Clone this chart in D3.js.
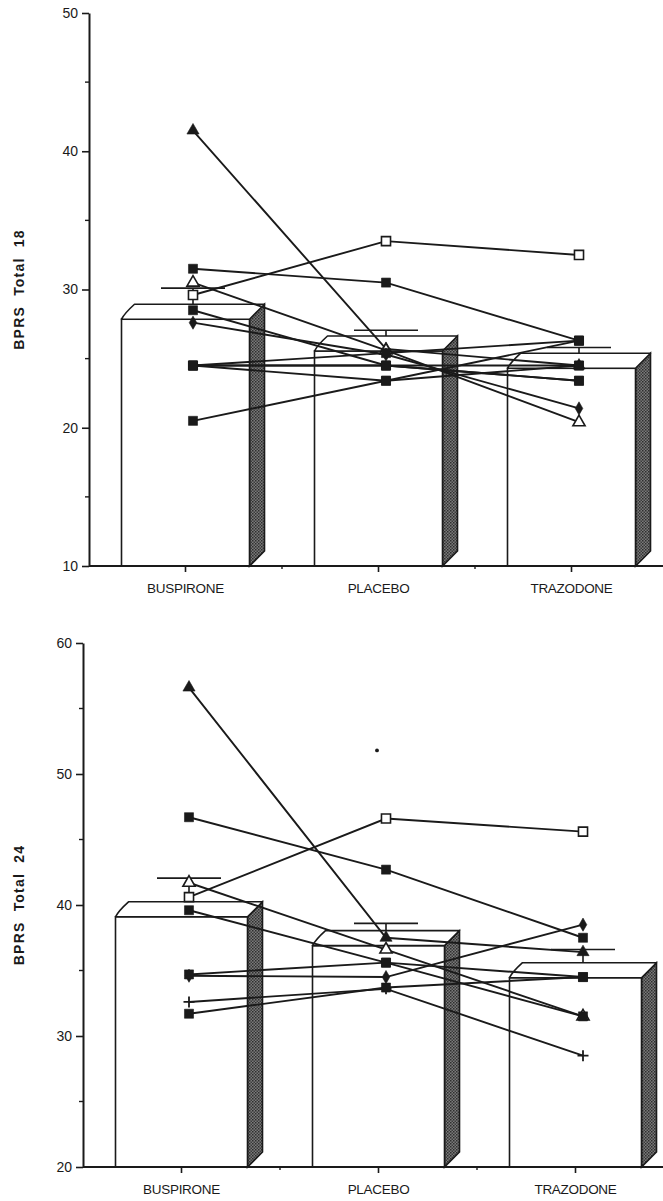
<!DOCTYPE html>
<html>
<head>
<meta charset="utf-8">
<script src="https://cdn.jsdelivr.net/npm/d3@7"></script>
<style>
  body { margin: 0; background: #fff; }
  svg { display: block; }
  text { font-family: "Liberation Sans", Arial, sans-serif; fill: #1a1a1a; }
</style>
</head>
<body>
<svg id="chart" width="663" height="1201"></svg>
<script>
var categories = ['BUSPIRONE', 'PLACEBO', 'TRAZODONE'];

// panel 1 : BPRS Total 18
var yTicks18 = [10, 20, 30, 40, 50];
var yMinor18 = [15, 25, 35, 45];
var means18 = [27.85, 25.55, 24.3];
var errTop18 = [30.1, 27.05, 25.8];
var shapes18 = ['triFill', 'square', 'triOpen', 'squareOpen', 'square', 'diamond',
                'square', 'square', 'square', 'square', 'square'];
var subjects18 = [
  [41.5, 25.7, 24.5],
  [31.5, 30.5, 26.3],
  [30.5, 25.6, 20.4],
  [29.6, 33.5, 32.5],
  [28.5, 24.5, 23.4],
  [27.6, 25.3, 21.4],
  [24.5, 25.4, 26.3],
  [24.5, 24.5, 24.5],
  [24.5, 24.5, 23.4],
  [24.5, 23.4, 24.5],
  [20.5, 23.4, 26.3]
];

// panel 2 : BPRS Total 24
var yTicks24 = [20, 30, 40, 50, 60];
var yMinor24 = [25, 35, 45, 55];
var means24 = [39.1, 36.9, 34.45];
var errTop24 = [42.05, 38.6, 36.6];
var shapes24 = ['triFill', 'square', 'squareOpen', 'triOpen', 'square', 'square',
                'diamond', 'plus', 'square'];
var subjects24 = [
  [56.6, 37.5, 36.4],
  [46.7, 42.7, 37.5],
  [40.6, 46.6, 45.6],
  [41.7, 36.6, 31.5],
  [39.6, 35.6, 31.5],
  [34.7, 35.6, 34.5],
  [34.6, 34.5, 38.5],
  [32.6, 33.6, 28.5],
  [31.7, 33.7, 34.5]
];
var stray24 = [[1, 51.8]]; // lone dot above placebo

var svg = d3.select('#chart');
var ink = '#1a1a1a';

var defs = svg.append('defs');
var pat = defs.append('pattern')
    .attr('id', 'stipple')
    .attr('width', 3).attr('height', 3)
    .attr('patternUnits', 'userSpaceOnUse');
pat.append('rect').attr('width', 3).attr('height', 3).attr('fill', '#7a7a7a');
pat.append('rect').attr('width', 1.5).attr('height', 1.5).attr('fill', '#2e2e2e');
pat.append('rect').attr('x', 1.5).attr('y', 1.5).attr('width', 1.5).attr('height', 1.5).attr('fill', '#3c3c3c');

function drawPanel(cfg) {
  var g = svg.append('g');
  var x = d3.scaleBand().domain(categories).range([cfg.x0, cfg.x1]);
  var y = d3.scaleLinear().domain(cfg.domain).range([cfg.yBottom, cfg.yTop]);
  var step = x.step();
  var frontW = cfg.frontW, dx = 15, dy = 15;
  var pad = (step - frontW) / 2;
  var mx = function (i) { return x(categories[i]) + pad + (frontW + dx) / 2; };

  // bars
  categories.forEach(function (c, i) {
    var fl = x(c) + pad, fr = fl + frontW, yt = y(cfg.means[i]), yb = cfg.yBottom;
    g.append('path')
      .attr('d', 'M' + fr + ',' + yt + 'L' + (fr + dx) + ',' + (yt - dy) + 'L' + (fr + dx) + ',' + (yb - dy) + 'L' + fr + ',' + yb + 'Z')
      .attr('fill', 'url(#stipple)').attr('stroke', ink).attr('stroke-width', 1.6);
    g.append('rect')
      .attr('x', fl).attr('y', yt).attr('width', frontW).attr('height', yb - yt)
      .attr('fill', '#fff').attr('stroke', ink).attr('stroke-width', 1.6);
    g.append('path')
      .attr('d', 'M' + fl + ',' + yt + 'Q' + (fl + 3) + ',' + (yt - 6) + ' ' + (fl + 13) + ',' + (yt - dy) +
                 'L' + (fr + dx) + ',' + (yt - dy) + 'L' + fr + ',' + yt + 'Z')
      .attr('fill', '#fff').attr('stroke', ink).attr('stroke-width', 1.6)
      .attr('stroke-linejoin', 'round');
    // error bar
    var ye = y(cfg.errTop[i]);
    g.append('line').attr('x1', mx(i)).attr('x2', mx(i)).attr('y1', ye).attr('y2', yt - dy)
      .attr('stroke', ink).attr('stroke-width', 1.6);
    g.append('line').attr('x1', mx(i) - 32).attr('x2', mx(i) + 32).attr('y1', ye).attr('y2', ye)
      .attr('stroke', ink).attr('stroke-width', 1.6);
  });

  // subject lines
  var line = d3.line().x(function (d, i) { return mx(i); }).y(function (d) { return y(d); });
  g.selectAll('path.subj')
    .data(cfg.subjects).enter()
    .append('path').attr('class', 'subj')
    .attr('d', line)
    .attr('fill', 'none').attr('stroke', ink).attr('stroke-width', 1.9);

  // markers, squares drawn last so they sit on top
  var order = cfg.subjects.map(function (d, s) { return s; });
  order.sort(function (a, b) {
    return (cfg.shapes[a] === 'square') - (cfg.shapes[b] === 'square') || a - b;
  });
  order.forEach(function (s) {
    var vals = cfg.subjects[s];
    var shape = cfg.shapes[s];
    vals.forEach(function (v, i) {
      var px = mx(i), py = y(v);
      var m;
      if (shape === 'plus') {
        m = g.append('path').attr('d', 'M-5.5,0H5.5M0,-5.5V5.5')
          .attr('stroke', ink).attr('stroke-width', 1.8).attr('fill', 'none');
      } else {
        var type = shape.indexOf('tri') === 0 ? d3.symbolTriangle
                 : shape === 'diamond' ? d3.symbolDiamond : d3.symbolSquare;
        var size = type === d3.symbolSquare ? 82 : type === d3.symbolTriangle ? 64 : 50;
        var open = shape.indexOf('Open') > 0;
        m = g.append('path').attr('d', d3.symbol().type(type).size(size)())
          .attr('fill', open ? '#fff' : ink)
          .attr('stroke', ink).attr('stroke-width', open ? 1.6 : 0.6);
      }
      m.attr('transform', 'translate(' + px + ',' + py + ')');
    });
  });

  (cfg.stray || []).forEach(function (d) {
    g.append('circle').attr('cx', mx(d[0]) - 9).attr('cy', y(d[1])).attr('r', 1.9).attr('fill', ink);
  });

  // y axis
  var yAxis = d3.axisLeft(y).tickValues(cfg.yTicks).tickSize(7).tickSizeOuter(0).tickPadding(4);
  var ga = g.append('g').attr('transform', 'translate(' + cfg.x0 + ',0)').call(yAxis);
  ga.select('.domain').attr('stroke', ink).attr('stroke-width', 2);
  ga.selectAll('.tick line').attr('stroke', ink).attr('stroke-width', 1.6);
  ga.selectAll('.tick text').style('font-size', '14px').attr('fill', ink);
  cfg.yMinor.forEach(function (v) {
    g.append('line').attr('x1', cfg.x0 - 4).attr('x2', cfg.x0).attr('y1', y(v)).attr('y2', y(v))
      .attr('stroke', ink).attr('stroke-width', 1.4);
  });

  // x axis
  g.append('line').attr('x1', cfg.x0).attr('x2', 663).attr('y1', cfg.yBottom).attr('y2', cfg.yBottom)
    .attr('stroke', ink).attr('stroke-width', 2);
  categories.forEach(function (c, i) {
    var cx = x(c) + pad + frontW / 2;
    g.append('line').attr('x1', cx).attr('x2', cx).attr('y1', cfg.yBottom).attr('y2', cfg.yBottom + 6)
      .attr('stroke', ink).attr('stroke-width', 1.6);
    if (i > 0) {
      g.append('line').attr('x1', x(c)).attr('x2', x(c)).attr('y1', cfg.yBottom).attr('y2', cfg.yBottom + 3)
        .attr('stroke', ink).attr('stroke-width', 1.4);
    }
    g.append('text').attr('x', cx).attr('y', cfg.yBottom + 27)
      .attr('text-anchor', 'middle').style('font-size', '13.5px').style('letter-spacing', '-0.3px')
      .text(c);
  });

  // y title
  g.append('text')
    .attr('transform', 'translate(' + 24 + ',' + ((cfg.yTop + cfg.yBottom) / 2) + ') rotate(-90)')
    .attr('text-anchor', 'middle')
    .style('font-size', '14px').style('font-weight', 'bold').style('letter-spacing', '1.2px')
    .style('white-space', 'pre')
    .text(cfg.title);
}

drawPanel({
  x0: 89, x1: 668, yTop: 13, yBottom: 566, domain: [10, 50], frontW: 128,
  yTicks: yTicks18, yMinor: yMinor18, means: means18, errTop: errTop18,
  subjects: subjects18, shapes: shapes18, title: 'BPRS  Total  18'
});
drawPanel({
  x0: 83, x1: 674, yTop: 643, yBottom: 1167, domain: [20, 60], frontW: 132,
  yTicks: yTicks24, yMinor: yMinor24, means: means24, errTop: errTop24,
  subjects: subjects24, shapes: shapes24, stray: stray24, title: 'BPRS  Total  24'
});
</script>
</body>
</html>
